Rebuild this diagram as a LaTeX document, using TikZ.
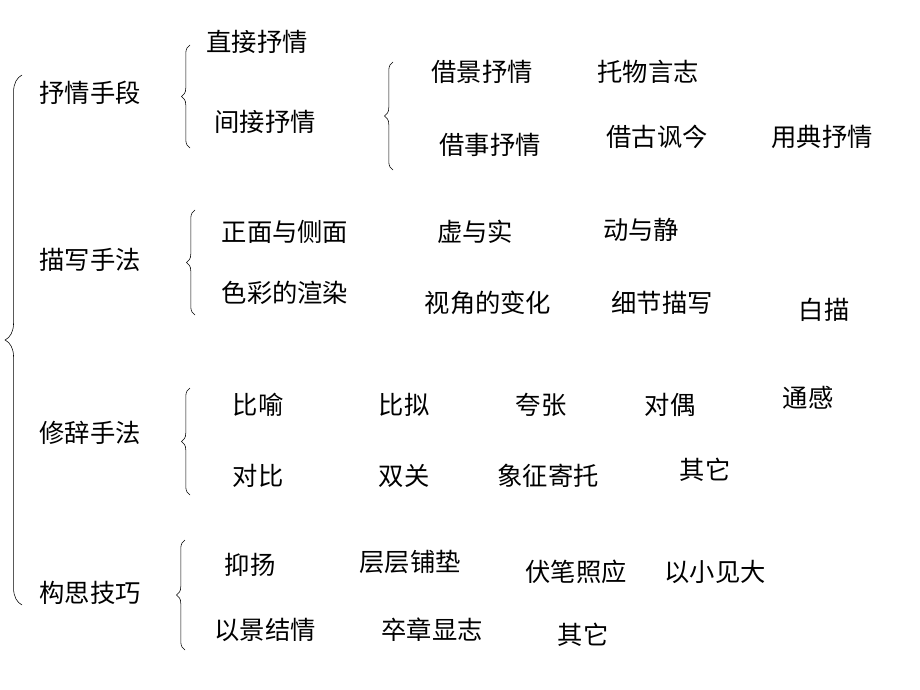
\documentclass[tikz,border=0pt]{standalone}
\usepackage{fontspec}
\setmainfont{Noto Sans CJK SC}
\usetikzlibrary{decorations.pathreplacing}
\tikzset{
  item/.style={font=\fontsize{18}{20}\selectfont, inner sep=0pt},
  grp/.style={draw=black, thin, decorate, decoration={brace, amplitude=#1}},
  grp/.default=6pt
}
\begin{document}
\begin{tikzpicture}[x=0.025cm, y=-0.025cm]
    \useasboundingbox (0,0) rectangle (920,690);

    % braces
    \draw[grp=12pt] (22,605) -- (22,75);
    \draw[grp] (190,148) -- (190,45);
    \draw[grp] (393,170) -- (393,62);
    \draw[grp] (195,315) -- (195,210);
    \draw[grp] (190,495) -- (190,388);
    \draw[grp] (185,650) -- (185,540);

    % main groups
    \node[item] (shouduan) at (90,93) {抒情手段};
    \node[item] (miaoxie) at (90,260) {描写手法};
    \node[item] (xiuci) at (90,433) {修辞手法};
    \node[item] (gousi) at (90,593) {构思技巧};

    % shuqing
    \node[item] (zhijie) at (257,42) {直接抒情};
    \node[item] (jianjie) at (265,122) {间接抒情};
    \node[item] (jiejing) at (482,72) {借景抒情};
    \node[item] (tuowu) at (648,72) {托物言志};
    \node[item] (jieshi) at (490,145) {借事抒情};
    \node[item] (jiegu) at (657,137) {借古讽今};
    \node[item] (yongdian) at (822,137) {用典抒情};

    % miaoxie
    \node[item] (zhengmian) at (285,232) {正面与侧面};
    \node[item] (xushi) at (475,232) {虚与实};
    \node[item] (dongjing) at (641,230) {动与静};
    \node[item] (secai) at (285,293) {色彩的渲染};
    \node[item] (shijiao) at (488,303) {视角的变化};
    \node[item] (xijie) at (662,303) {细节描写};
    \node[item] (baimiao) at (824,310) {白描};

    % xiuci
    \node[item] (biyu) at (258,405) {比喻};
    \node[item] (bini) at (404,405) {比拟};
    \node[item] (kuazhang) at (541,405) {夸张};
    \node[item] (duiou) at (670,405) {对偶};
    \node[item] (tonggan) at (808,398) {通感};
    \node[item] (duibi) at (258,476) {对比};
    \node[item] (shuangguan) at (404,476) {双关};
    \node[item] (xiangzheng) at (548,476) {象征寄托};
    \node[item] (qita) at (705,470) {其它};

    % gousi
    \node[item] (yiyang) at (250,565) {抑扬};
    \node[item] (cengceng) at (410,562) {层层铺垫};
    \node[item] (fubi) at (576,572) {伏笔照应};
    \node[item] (yixiao) at (715,572) {以小见大};
    \node[item] (yijing) at (265,630) {以景结情};
    \node[item] (zuzhang) at (432,630) {卒章显志};
    \node[item] (qita2) at (583,635) {其它};

\end{tikzpicture}
\end{document}
